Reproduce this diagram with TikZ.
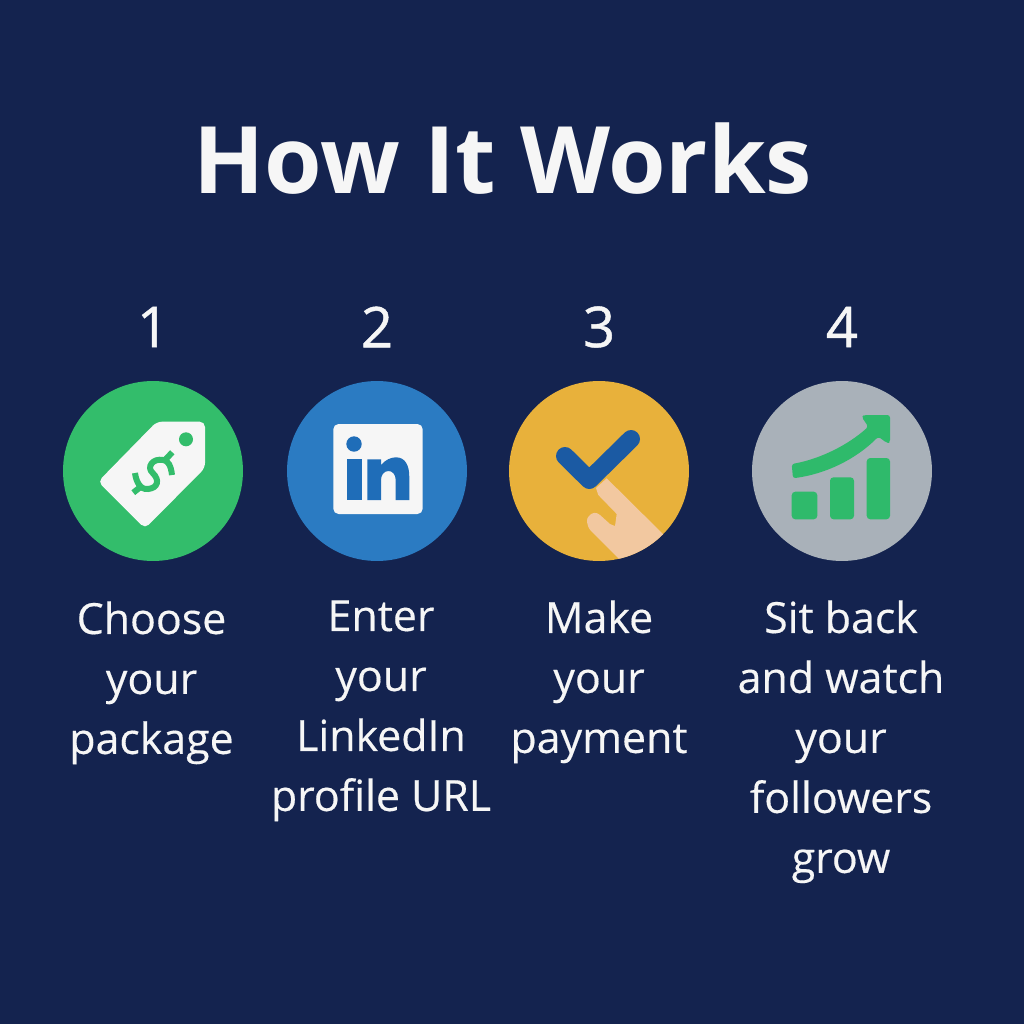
\documentclass[tikz,border=0pt]{standalone}
\usepackage{fontspec}
\setmainfont{Open Sans}
\newfontfamily\stepfont[FakeBold=0.35]{Open Sans}
\newfontfamily\numfont[FakeBold=0.8]{Open Sans}
\usetikzlibrary{positioning}

\definecolor{bgnavy}{HTML}{14234F}
\definecolor{discgreen}{HTML}{33BD6B}
\definecolor{discblue}{HTML}{2B7BC2}
\definecolor{discgold}{HTML}{E8B13B}
\definecolor{discgrey}{HTML}{A9B1B9}
\definecolor{iconwhite}{HTML}{F6F6F6}
\definecolor{inblue}{HTML}{1F6DB8}
\definecolor{checkblue}{HTML}{1B5AA3}
\definecolor{handskin}{HTML}{F2C8A0}
\definecolor{bargreen}{HTML}{2FBA6B}

\tikzset{
  stepdisc/.style={circle,minimum size=3.6cm,inner sep=0pt},
  stepnum/.style={text=iconwhite,font=\numfont\fontsize{32}{32}\selectfont},
  steptext/.style={text=iconwhite,align=center,anchor=north,inner sep=0pt,
    font=\stepfont\fontsize{24.4}{34.14}\selectfont},
}

\begin{document}
\begin{tikzpicture}[x=0.02cm,y=-0.02cm]

\fill[bgnavy] (0,0) rectangle (1024,1024);
\useasboundingbox (0,0) rectangle (1024,1024);

\node[text=iconwhite,font=\fontsize{53}{53}\selectfont\bfseries] (title) at (503,159) {How It Works};

\foreach \x/\n/\col in {153/1/discgreen,377/2/discblue,599/3/discgold,842/4/discgrey}
  {\node[stepdisc,fill=\col] (disc\n) at (\x,471) {};
   \node[stepnum] (num\n) at (\x,327) {\n};}

\node[steptext] (label1) at (151.5,601) {Choose\\your\\package};
\node[steptext] (label2) at (381,600) {Enter\\your\\LinkedIn\\profile URL};
\node[steptext] (label3) at (599,600) {Make\\your\\payment};
\node[steptext] (label4) at (841,600) {Sit back\\and watch\\your\\followers\\grow};

% price tag
\fill[iconwhite,rounded corners=3pt] (156.7,421.7) -- (205,421.7) -- (205,468) -- (145,528.5) -- (98,481.7) -- cycle;
\fill[discgreen] (186,439.3) circle [radius=0.14cm];
\draw[discgreen,line width=0.12cm] (172,475) .. controls (171,466) and (168,460) .. (163,460)
  .. controls (153,458) and (146,467) .. (152.7,473)
  .. controls (160,480) and (158,488) .. (148,489)
  .. controls (140,490) and (136,481) .. (135,473);
\draw[discgreen,line width=0.12cm] (165,460) -- (172.3,452.3);
\draw[discgreen,line width=0.12cm] (140,487.3) -- (133.3,492.7);

% linkedin
\fill[iconwhite,rounded corners=3pt] (333.3,424) rectangle (422.7,514);
\fill[inblue] (354,444) circle [radius=0.154cm];
\fill[inblue] (347.3,459.3) rectangle (361.7,500);
\fill[inblue] (367.3,500) -- (367.3,459.3) -- (381,459.3) -- (381,465)
  .. controls (385,460) and (391,457.3) .. (396,457.3)
  .. controls (405,457.3) and (409.3,465) .. (409.3,477)
  -- (409.3,500) -- (395.7,500) -- (395.7,480)
  .. controls (395.7,474) and (392,471) .. (388.5,471)
  .. controls (384,471) and (381,475) .. (381,480)
  -- (381,500) -- cycle;

% hand and check mark
\begin{scope}
\clip (disc3.center) circle [radius=1.8cm];
\fill[handskin] (606.7,478.3) -- (670,541) -- (625,565) -- (618.3,558.3) -- (591,531)
  .. controls (586,525) and (586,518) .. (589,516)
  .. controls (592,512) and (597,512) .. (600,515)
  -- (610,524) -- (615,526) -- (616.7,514) -- (598.3,495) -- (596,488) -- cycle;
\end{scope}
\draw[checkblue,line width=0.36cm,line cap=round,line join=round] (565,456) -- (589.3,480) -- (631,439);

% rising bars
\foreach \xa/\xb/\ya in {791.7/817.3/491.7,830/854/477.3,866.7/890/458}
  {\fill[bargreen,rounded corners=2pt] (\xa,\ya) rectangle (\xb,519.3);}
\fill[bargreen,rounded corners=1.5pt] (791.7,464)
  .. controls (820,459) and (848,445) .. (868.3,426.7)
  -- (861.7,417) -- (864,415) -- (890,415) -- (890,442.7) -- (887,443) -- (878.3,436.7)
  .. controls (855,460) and (825,474) .. (793,478.3) -- cycle;

\end{tikzpicture}
\end{document}
